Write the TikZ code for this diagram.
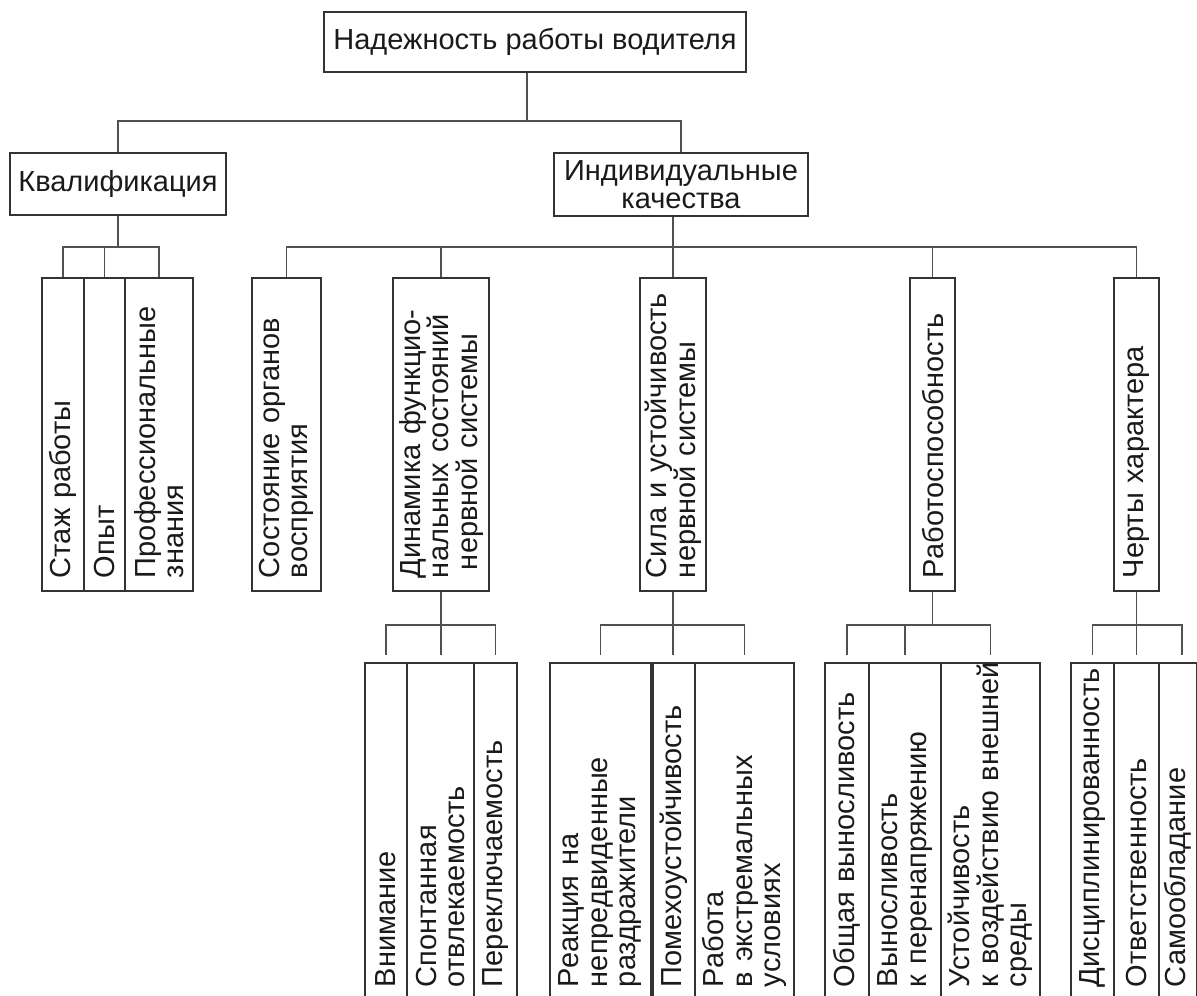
\documentclass[tikz,border=0pt]{standalone}
\usepackage{fontspec}
\setmainfont{Liberation Sans}
\usetikzlibrary{calc}
\definecolor{boxc}{HTML}{333333}
\definecolor{linec}{HTML}{505050}
\definecolor{txtc}{HTML}{1A1A1A}
\tikzset{
  base/.style={draw=boxc, line width=1.1pt, text=txtc, font=\fontsize{29}{28.5}\selectfont, inner sep=0pt},
  vb/.style n args={4}{base, rotate=90, minimum width=#1, minimum height=#2, text width=#3, inner xsep=#4, inner ysep=0pt, align=left},
  upbox/.style={vb={313pt}{#1}{287pt}{13pt}},
  lobox/.style={vb={337pt}{#1}{311pt}{13pt}},
  conn/.style={draw=linec, line width=1.1pt},
}
\begin{document}
\begin{tikzpicture}[x=1pt,y=-1pt]
\useasboundingbox (0,0) rectangle (1197,996);
\clip (0,0) rectangle (1197,996);
\fill[white] (0,0) rectangle (1197,996);

% level 0 and 1
\node[base, minimum width=422pt, minimum height=60pt] (root) at (535,42) {Надежность работы водителя};
\node[base, minimum width=216pt, minimum height=62pt] (kval) at (118,184) {Квалификация};
\node[base, minimum width=254pt, minimum height=63pt, align=center] (ind) at (681,184.5) {Индивидуальные\\качества};

% level 2 (upper vertical boxes)
\node[upbox=42pt] (stazh) at (63,434.5) {\mbox{Стаж работы}};
\node[upbox=41pt] (opyt) at (104.5,434.5) {\mbox{Опыт}};
\node[upbox=68pt] (prof) at (159,434.5) {\mbox{Профессиональные}\\\mbox{знания}};
\node[upbox=69pt] (sost) at (286.5,434.5) {\mbox{Состояние органов}\\\mbox{восприятия}};
\node[upbox=96pt] (dyn) at (441,434.5) {\mbox{Динамика функцио-}\\\mbox{нальных состояний}\\\mbox{\hspace*{8pt}нервной системы}};
\node[upbox=66pt] (sila) at (673,434.5) {\mbox{Сила и устойчивость}\\\mbox{нервной системы}};
\node[upbox=45pt] (rab) at (932.5,434.5) {\mbox{Работоспособность}};
\node[upbox=45pt] (cher) at (1136.5,434.5) {\mbox{Черты характера}};

% level 3 (lower vertical boxes, open at the bottom)
\node[lobox=42pt] (vnim) at (386,831.5) {\mbox{Внимание}};
\node[lobox=67pt] (spon) at (440.5,831.5) {\mbox{Спонтанная}\\\mbox{отвлекаемость}};
\node[lobox=43pt] (pere) at (495.5,831.5) {\mbox{Переключаемость}};
\node[lobox=101pt] (reak) at (600.5,831.5) {\mbox{Реакция на}\\\mbox{непредвиденные}\\\mbox{раздражители}};
\node[lobox=42pt] (pomeh) at (674,831.5) {\mbox{Помехоустойчивость}};
\node[lobox=99pt] (rabota) at (744.5,831.5) {\mbox{Работа}\\\mbox{в экстремальных}\\\mbox{условиях}};
\node[lobox=44pt] (obsh) at (847,831.5) {\mbox{Общая выносливость}};
\node[lobox=72pt] (vyn) at (905,831.5) {\mbox{Выносливость}\\\mbox{к перенапряжению}};
\node[lobox=99pt] (ust) at (990.5,831.5) {\mbox{Устойчивость}\\\mbox{к воздействию внешней}\\\mbox{среды}};
\node[lobox=43pt] (disc) at (1092.5,831.5) {\mbox{Дисциплинированность}};
\node[lobox=45pt] (otv) at (1136.5,831.5) {\mbox{Ответственность}};
\node[lobox=38pt] (samo) at (1178,831.5) {\mbox{Самообладание}};

% helper coordinates
\coordinate (b1) at (527,121);
\coordinate (upbus) at (0,247);
\coordinate (lowbus) at (0,625);
\coordinate (lowtop) at (0,655);
\coordinate (samoc) at ($(samo.east)+(4,0)$);

% level 0 -> 1
\draw[conn] (root.south -| b1) -- (b1);
\draw[conn] (kval.north) |- (ind.north |- b1) -- (ind.north);

% Квалификация -> children
\draw[conn] (kval.south) -- (kval.south |- upbus);
\draw[conn] (stazh.east) |- (prof.east |- upbus) -- (prof.east);
\draw[conn] (opyt.east) -- (opyt.east |- upbus);

% Индивидуальные качества -> children
\draw[conn] (ind.south -| sila.east) -- (sila.east |- upbus);
\draw[conn] (sost.east) |- (cher.east |- upbus) -- (cher.east);
\draw[conn] (dyn.east) -- (dyn.east |- upbus);
\draw[conn] (sila.east) -- (sila.east |- upbus);
\draw[conn] (rab.east) -- (rab.east |- upbus);

% Динамика -> children
\draw[conn] (dyn.west) -- (dyn.west |- lowtop);
\draw[conn] (vnim.east |- lowtop) |- (pere.east |- lowbus) -- (pere.east |- lowtop);

% Сила -> children
\draw[conn] (sila.west) -- (sila.west |- lowtop);
\draw[conn] (reak.east |- lowtop) |- (rabota.east |- lowbus) -- (rabota.east |- lowtop);

% Работоспособность -> children
\draw[conn] (rab.west) -- (rab.west |- lowbus);
\draw[conn] (obsh.east |- lowtop) |- (ust.east |- lowbus) -- (ust.east |- lowtop);
\draw[conn] (vyn.east |- lowtop) -- (vyn.east |- lowbus);

% Черты характера -> children
\draw[conn] (cher.west) -- (cher.west |- lowtop);
\draw[conn] (disc.east |- lowtop) |- (samoc |- lowbus) -- (samoc |- lowtop);
\end{tikzpicture}
\end{document}
